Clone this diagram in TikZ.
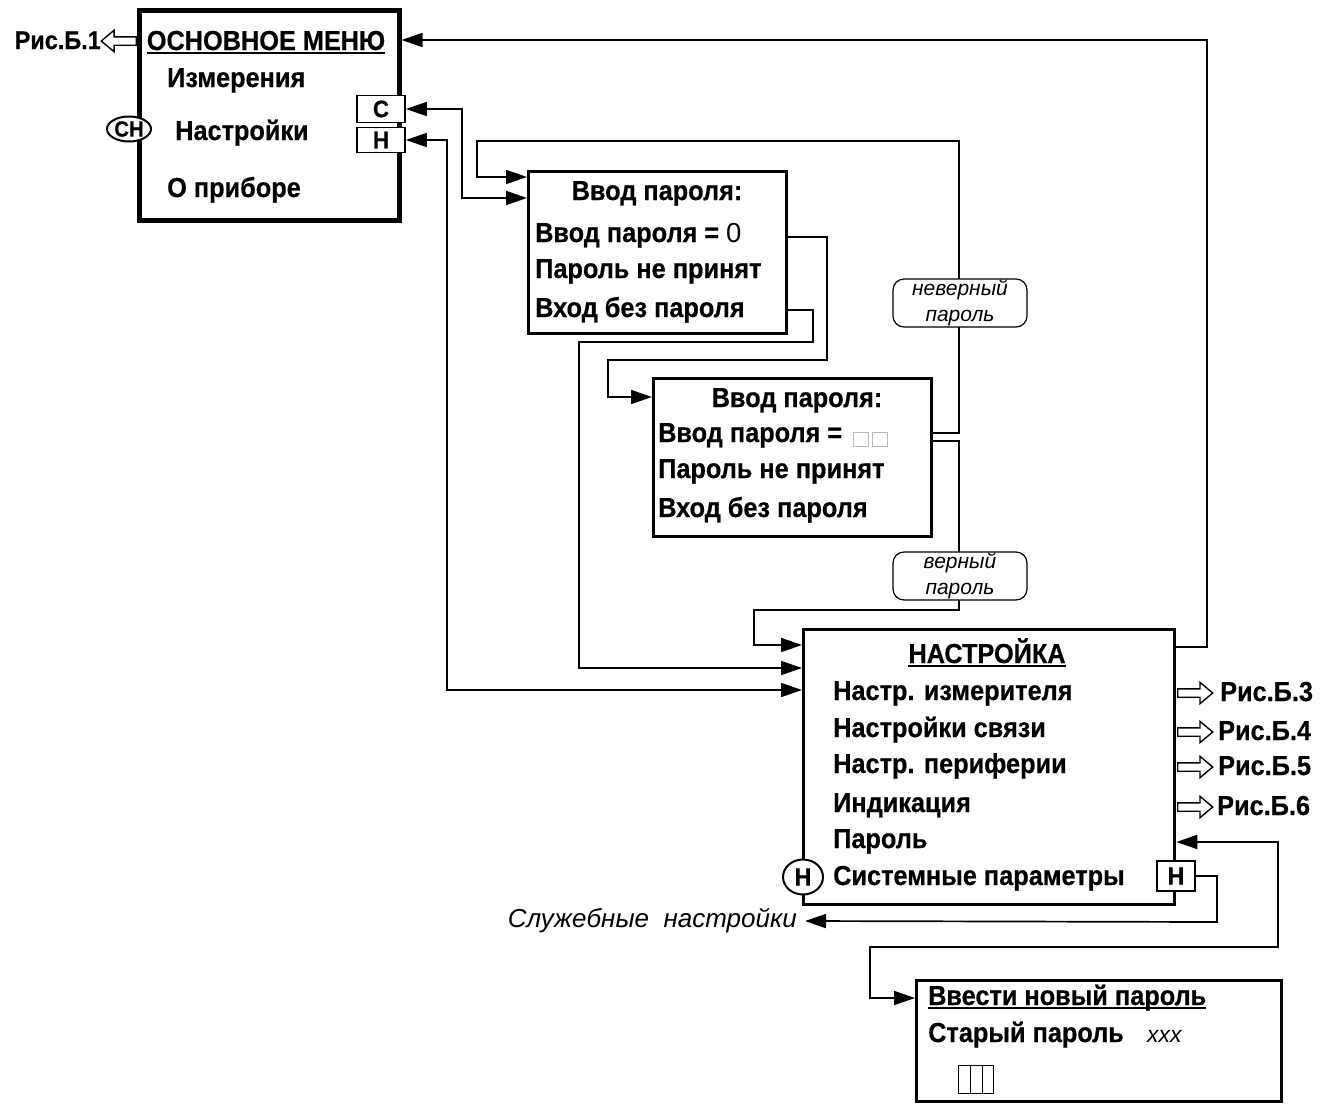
\documentclass[tikz,border=0pt]{standalone}
\usepackage{fontspec}
\setmainfont{Liberation Sans}[BoldFeatures={FakeStretch=0.92,FakeBold=0.5}]
\usetikzlibrary{arrows.meta,shapes.geometric,shapes.arrows,calc}
\tikzset{
  bfont/.style={font=\bfseries\fontsize{27.5}{32}\selectfont},
  txt/.style={bfont, anchor=base west, inner sep=0pt},
  frame/.style={draw, anchor=north west, inner sep=0pt},
  conn/.style={line width=1.7pt},
  tipT/.tip={Triangle[length=21pt,width=14pt]},
  sbox/.style={draw, fill=white, line width=1.8pt, inner sep=0pt, font=\bfseries\fontsize{24}{26}\selectfont},
  oval/.style={ellipse, draw, fill=white, line width=2pt, inner sep=0pt},
  lbl/.style={draw, fill=white, rounded corners=11pt, line width=1.2pt, minimum width=134pt, minimum height=48pt, align=center, inner sep=1pt, font=\itshape\fontsize{21}{26}\selectfont},
  harrow/.style={single arrow, draw, fill=white, line width=1.4pt, inner xsep=0pt, inner ysep=3.5pt, minimum height=35pt, single arrow head extend=6.5pt, single arrow tip angle=80},
  uline/.style={line width=2pt}
}
\begin{document}
\begin{tikzpicture}[x=1pt,y=-1pt]
\useasboundingbox (0,0) rectangle (1330,1106);

% frames
\node[frame, line width=4.5pt, minimum width=260pt, minimum height=210pt] (mm) at (137,8) {};
\node[frame, line width=2.8pt, minimum width=258pt, minimum height=162pt] (pw1) at (527,170) {};
\node[frame, line width=2.8pt, minimum width=278pt, minimum height=158pt] (pw2) at (652,377) {};
\node[frame, line width=3.3pt, minimum width=371pt, minimum height=275pt] (nas) at (802,628) {};
\node[frame, line width=3pt, minimum width=365pt, minimum height=121pt] (np) at (915,979) {};

% main menu texts
\node[txt, anchor=base] (mmt) at (266,50) {ОСНОВНОЕ МЕНЮ};
\draw[uline] ([yshift=-3pt]mmt.base west) -- ([yshift=-3pt]mmt.base east);
\node[txt] (m1) at (167,87) {Измерения};
\node[txt] (m2) at (175,140) {Настройки};
\node[txt] (m3) at (167,197) {О приборе};
\node[txt, anchor=base east, font=\bfseries\fontsize{25.5}{28}\selectfont] (r1) at (101,49) {Рис.Б.1};
\node[harrow, shape border rotate=180, anchor=tail] (a1) at (137,41) {};

% password box 1
\node[txt, anchor=base] (p1t) at (657,200) {Ввод пароля:};
\node[txt] (p11) at (535,242) {Ввод пароля = {\mdseries 0}};
\node[txt] (p12) at (535,278) {Пароль не принят};
\node[txt] (p13) at (535,317) {Вход без пароля};

% password box 2
\node[txt, anchor=base] (p2t) at (797,407) {Ввод пароля:};
\node[txt] (p21) at (658,442) {Ввод пароля =};
\draw[gray!55, line width=1pt] (853,432) rectangle (868,446) (872,432) rectangle (887,446);
\node[txt] (p22) at (658,478) {Пароль не принят};
\node[txt] (p23) at (658,517) {Вход без пароля};

% settings box
\node[txt, anchor=base] (nt) at (987,663) {НАСТРОЙКА};
\draw[uline] ([yshift=-3pt]nt.base west) -- ([yshift=-3pt]nt.base east);
\node[txt] (n1) at (833,700) {Настр. измерителя};
\node[txt] (n2) at (833,737) {Настройки связи};
\node[txt] (n3) at (833,773) {Настр. периферии};
\node[txt] (n4) at (833,812) {Индикация};
\node[txt] (n5) at (833,848) {Пароль};
\node[txt] (n6) at (833,885) {Системные параметры};

% figure references
\node[harrow, anchor=tail] (a3) at (1177,693) {};
\node[txt] (r3) at (1220,701) {Рис.Б.3};
\node[harrow, anchor=tail] (a4) at (1177,732) {};
\node[txt] (r4) at (1218,740) {Рис.Б.4};
\node[harrow, anchor=tail] (a5) at (1177,767) {};
\node[txt] (r5) at (1218,775) {Рис.Б.5};
\node[harrow, anchor=tail] (a6) at (1177,807) {};
\node[txt] (r6) at (1217,815) {Рис.Б.6};

% new password box
\node[txt] (npt) at (928,1005) {Ввести новый пароль};
\draw[uline] ([yshift=-3pt]npt.base west) -- ([yshift=-3pt]npt.base east);
\node[txt] (np1) at (928,1042) {Старый пароль};
\node[anchor=base west, inner sep=0pt, font=\itshape\fontsize{23}{26}\selectfont] (xxx) at (1147,1042) {xxx};
\draw[line width=1pt] (958,1065) rectangle (993,1093) (970,1065) -- (970,1093) (982,1065) -- (982,1093);

% service text
\node[anchor=east, inner xsep=8pt, inner ysep=0pt, font=\itshape\fontsize{26}{30}\selectfont] (serv) at (805,921) {Служебные~~настройки};

% connectors
\draw[conn, {tipT}-] (mm.east |- 0,40) -- (1207,40) |- (nas.east |- 0,647);
\draw[conn, -{tipT}] (pw2.east |- 0,433) -| (959,141) -| (477,177) -- (pw1.west |- 0,177);
\draw[conn, -{tipT}] (pw1.east |- 0,237) -| (827,360) -| (608,397) -- (pw2.west |- 0,397);
\draw[conn, -{tipT}] (pw1.east |- 0,310) -| (813,342) -| (579,668) -- (nas.west |- 0,668);
\draw[conn, -{tipT}] (pw2.east |- 0,441) -| (959,610) -| (754,645) -- (nas.west |- 0,645);
\draw[conn, {tipT}-{tipT}] (nas.east |- 0,842) -| (1278,947) -| (870,998) -- (np.west |- 0,998);

% small key boxes and ovals
\node[sbox, minimum width=48pt, minimum height=27pt] (cbox) at (381,109) {С};
\node[sbox, minimum width=48pt, minimum height=25pt] (hbox) at (381,140) {Н};
\node[sbox, minimum width=38pt, minimum height=30pt, font=\bfseries\fontsize{25}{26}\selectfont] (hbox2) at (1176,876) {Н};
\node[oval, minimum width=44pt, minimum height=25pt, font=\bfseries\fontsize{22}{24}\selectfont] (sn) at (129,129) {СН};
\node[oval, minimum width=40pt, minimum height=35pt, font=\bfseries\fontsize{25}{26}\selectfont] (hk) at (803,877) {Н};

\draw[conn, {tipT}-{tipT}] (cbox.east) -| (462,198) -- (pw1.west |- 0,198);
\draw[conn, {tipT}-{tipT}] (hbox.east) -| (447,690) -- (nas.west |- 0,690);
\draw[conn, -{tipT}] (hbox2.east) -| (1217,922) -- (serv.east);

% labels
\node[lbl] (wrong) at (960,303) {неверный\\пароль};
\node[lbl] (right) at (960,576) {верный\\пароль};
\end{tikzpicture}
\end{document}
